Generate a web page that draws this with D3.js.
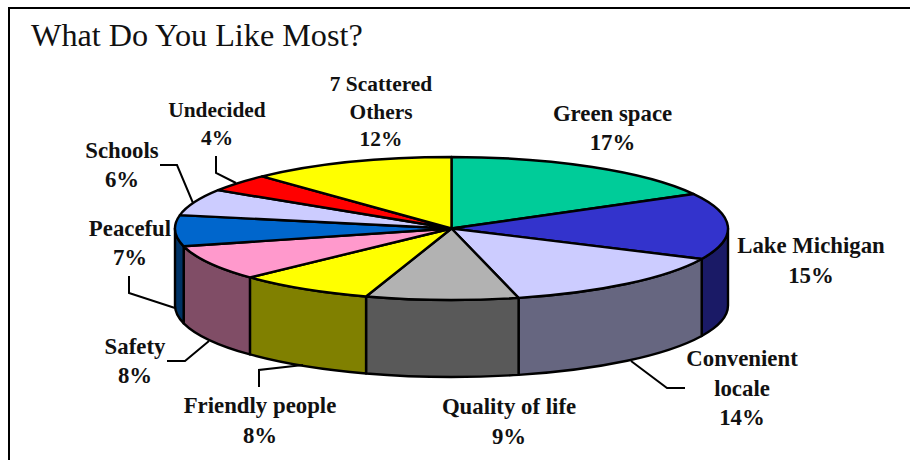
<html>
    <head>
        <title>What Do You Like Most?</title>
        <script src="https://d3js.org/d3.v7.min.js" charset="utf-8"></script>
        <style>
            body {
                margin: 0;
                background: white;
            }

            svg {
                display: block;
            }

            text {
                font-family: "Liberation Serif", serif;
                fill: #111;
            }

            .label {
                font-weight: bold;
                text-anchor: middle;
            }
        </style>
    </head>

    <body>
        <script>
            // values, clockwise from 12 o'clock
            // slice edges put convenient locale a touch over 14 and quality of life a touch under 9
            var categories = ["Green space", "Lake Michigan", "Convenient locale", "Quality of life", "Friendly people",
                "Safety", "Peaceful", "Schools", "Undecided", "7 Scattered Others"];
            var values = [17, 15, 14.1, 8.9, 8, 8, 7, 6, 4, 12];

            var topColors = ["#00CC99", "#3333CC", "#CCCCFF", "#B2B2B2", "#FFFF00",
                "#FF99CC", "#0066CC", "#CCCCFF", "#FF0000", "#FFFF00"];
            var sideColors = ["#006650", "#1A1A66", "#666680", "#595959", "#808000",
                "#804D66", "#003366", "#666680", "#800000", "#808000"];

            // how each label breaks into lines, and where it sits
            var labelLines = [["Green space"], ["Lake Michigan"], ["Convenient", "locale"], ["Quality of life"], ["Friendly people"],
                ["Safety"], ["Peaceful"], ["Schools"], ["Undecided"], ["7 Scattered", "Others"]];
            var labelX = [612.5, 811, 742, 509, 260, 135, 130, 122, 217, 381];
            var labelY = [121, 253, 366, 414, 413, 354, 236, 158, 117, 91];
            var lineGaps = [29, 30, 29.5, 30, 30, 29, 29, 29, 28, 27.5];
            var labelSizes = [22.8, 22.8, 22.8, 22.8, 22.8, 22.8, 22.8, 22.8, 21.4, 21.4];

            var leaders = [
                [[631, 361], [667, 388], [685, 388]],
                [[303, 365], [259, 370], [259, 387]],
                [[209, 341], [185, 361], [167, 361]],
                [[175, 308], [129, 293], [129, 276]],
                [[193, 203], [177, 165], [160, 165]],
                [[236, 183], [216, 173], [216, 156]]
            ];

            var width = 910;
            var height = 460;
            var rx = 276.5;
            var ry = 71.5;
            var cx = 451.5;
            var cy = 228.5;
            var depth = 77;

            var svg = d3.select("body")
            .append("svg")
            .attr("width", width)
            .attr("height", height);

            // frame runs off the right and bottom of the picture
            svg.append("rect")
            .attr("x", 9)
            .attr("y", 8)
            .attr("width", width)
            .attr("height", height)
            .attr("fill", "white")
            .attr("stroke", "black")
            .attr("stroke-width", 2);

            svg.append("text")
            .attr("x", 31)
            .attr("y", 46)
            .attr("font-size", 32.2)
            .text("What Do You Like Most?");

            var xScale = d3.scaleLinear().domain([-1, 1]).range([cx - rx, cx + rx]);
            var yScale = d3.scaleLinear().domain([-1, 1]).range([cy - ry, cy + ry]);

            // tilted pie: angle 0 is the top of the ellipse, going clockwise
            function px(a) { return xScale(Math.sin(a)); }
            function py(a) { return yScale(-Math.cos(a)); }

            var slices = d3.pie().sort(null).value(function(d) { return d; })(values);

            function topPath(d) {
                var large = d.endAngle - d.startAngle > Math.PI ? 1 : 0;
                return "M" + cx + "," + cy
                    + "L" + px(d.startAngle) + "," + py(d.startAngle)
                    + "A" + rx + "," + ry + " 0 " + large + " 1 " + px(d.endAngle) + "," + py(d.endAngle)
                    + "Z";
            }

            // only the front half of the rim shows
            function sidePath(d) {
                var a0 = Math.max(d.startAngle, Math.PI / 2);
                var a1 = Math.min(d.endAngle, Math.PI * 1.5);
                if (a1 <= a0) return null;
                return "M" + px(a0) + "," + py(a0)
                    + "A" + rx + "," + ry + " 0 0 1 " + px(a1) + "," + py(a1)
                    + "L" + px(a1) + "," + (py(a1) + depth)
                    + "A" + rx + "," + ry + " 0 0 0 " + px(a0) + "," + (py(a0) + depth)
                    + "Z";
            }

            var g = svg.append("g")
            .attr("stroke", "black")
            .attr("stroke-width", 2.4)
            .attr("stroke-linejoin", "round");

            g.selectAll("path.side")
            .data(slices.filter(sidePath))
            .enter()
            .append("path")
            .attr("class", "side")
            .attr("fill", function(d) { return sideColors[d.index]; })
            .attr("d", sidePath);

            g.selectAll("path.top")
            .data(slices)
            .enter()
            .append("path")
            .attr("class", "top")
            .attr("fill", function(d) { return topColors[d.index]; })
            .attr("d", topPath);

            svg.selectAll("path.leader")
            .data(leaders)
            .enter()
            .append("path")
            .attr("class", "leader")
            .attr("fill", "none")
            .attr("stroke", "black")
            .attr("stroke-width", 2)
            .attr("d", d3.line());

            var labels = svg.selectAll("text.label")
            .data(categories)
            .enter()
            .append("text")
            .attr("class", "label")
            .attr("font-size", function(d, i) { return labelSizes[i]; });

            labels.each(function(name, i) {
                var lines = labelLines[i].concat([Math.round(values[i]) + "%"]);
                d3.select(this).selectAll("tspan")
                .data(lines)
                .enter()
                .append("tspan")
                .attr("x", labelX[i])
                .attr("y", function(d, j) { return labelY[i] + j * lineGaps[i]; })
                .text(function(d) { return d; });
            });
        </script>
    </body>
</html>
